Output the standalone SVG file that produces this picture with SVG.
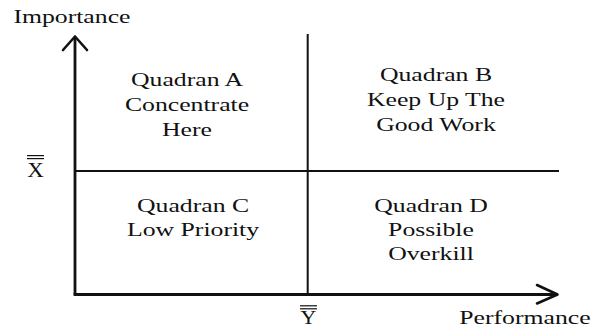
<svg xmlns="http://www.w3.org/2000/svg" width="593" height="331" viewBox="0 0 593 331">
<style>
  text { font-family: "Liberation Serif", "Times New Roman", serif; font-size: 18px; fill: #111; text-anchor: middle; }
  .axis { stroke: #111; stroke-width: 2.8; fill: none; }
  .div { stroke: #111; stroke-width: 2; fill: none; }
  .bar { stroke: #111; stroke-width: 1.2; }
  .head { stroke: #111; stroke-width: 2.6; fill: none; stroke-linecap: round; stroke-linejoin: round; }
</style>
<rect width="593" height="331" fill="#fff"/>
<g id="connectors">
  <line class="axis" x1="75" y1="38" x2="75" y2="294.5"/>
  <line class="axis" x1="73.6" y1="294.5" x2="556" y2="294.5"/>
  <polyline class="head" points="63,50 75,36.5 87,50"/>
  <polyline class="head" points="537,285 557.5,294.5 537,303.5"/>
  <line class="div" x1="307.7" y1="34" x2="307.7" y2="294"/>
  <line class="div" x1="75" y1="171" x2="559" y2="171"/>
</g>
<g id="label-importance" transform="matrix(1.43 0 0 1 0 0)">
  <text x="50.3" y="23">Importance</text>
</g>
<g id="label-performance" transform="matrix(1.43 0 0 1 0 0)">
  <text x="367.1" y="324">Performance</text>
</g>
<g id="label-x">
  <line class="bar" x1="27" y1="155.6" x2="44" y2="155.6"/>
  <line class="bar" x1="27" y1="158.6" x2="44" y2="158.6"/>
  <text x="35.5" y="177" style="font-size:20px" transform="translate(35.5 0) scale(1.15 1) translate(-35.5 0)">X</text>
</g>
<g id="label-y">
  <line class="bar" x1="300" y1="305.8" x2="317" y2="305.8"/>
  <line class="bar" x1="300" y1="308.8" x2="317" y2="308.8"/>
  <text x="308.5" y="324" style="font-size:19px" transform="translate(308.5 0) scale(1.15 1) translate(-308.5 0)">Y</text>
</g>
<g id="quadrant-a" transform="matrix(1.43 0 0 1 0 0)">
  <text x="130.8" y="86">Quadran A</text>
  <text x="130.8" y="111">Concentrate</text>
  <text x="130.8" y="136">Here</text>
</g>
<g id="quadrant-b" transform="matrix(1.43 0 0 1 0 0)">
  <text x="304.9" y="81">Quadran B</text>
  <text x="304.9" y="106">Keep Up The</text>
  <text x="304.9" y="131">Good Work</text>
</g>
<g id="quadrant-c" transform="matrix(1.43 0 0 1 0 0)">
  <text x="135" y="212">Quadran C</text>
  <text x="135" y="236">Low Priority</text>
</g>
<g id="quadrant-d" transform="matrix(1.43 0 0 1 0 0)">
  <text x="301.4" y="212">Quadran D</text>
  <text x="301.4" y="236">Possible</text>
  <text x="301.4" y="260">Overkill</text>
</g>
</svg>
